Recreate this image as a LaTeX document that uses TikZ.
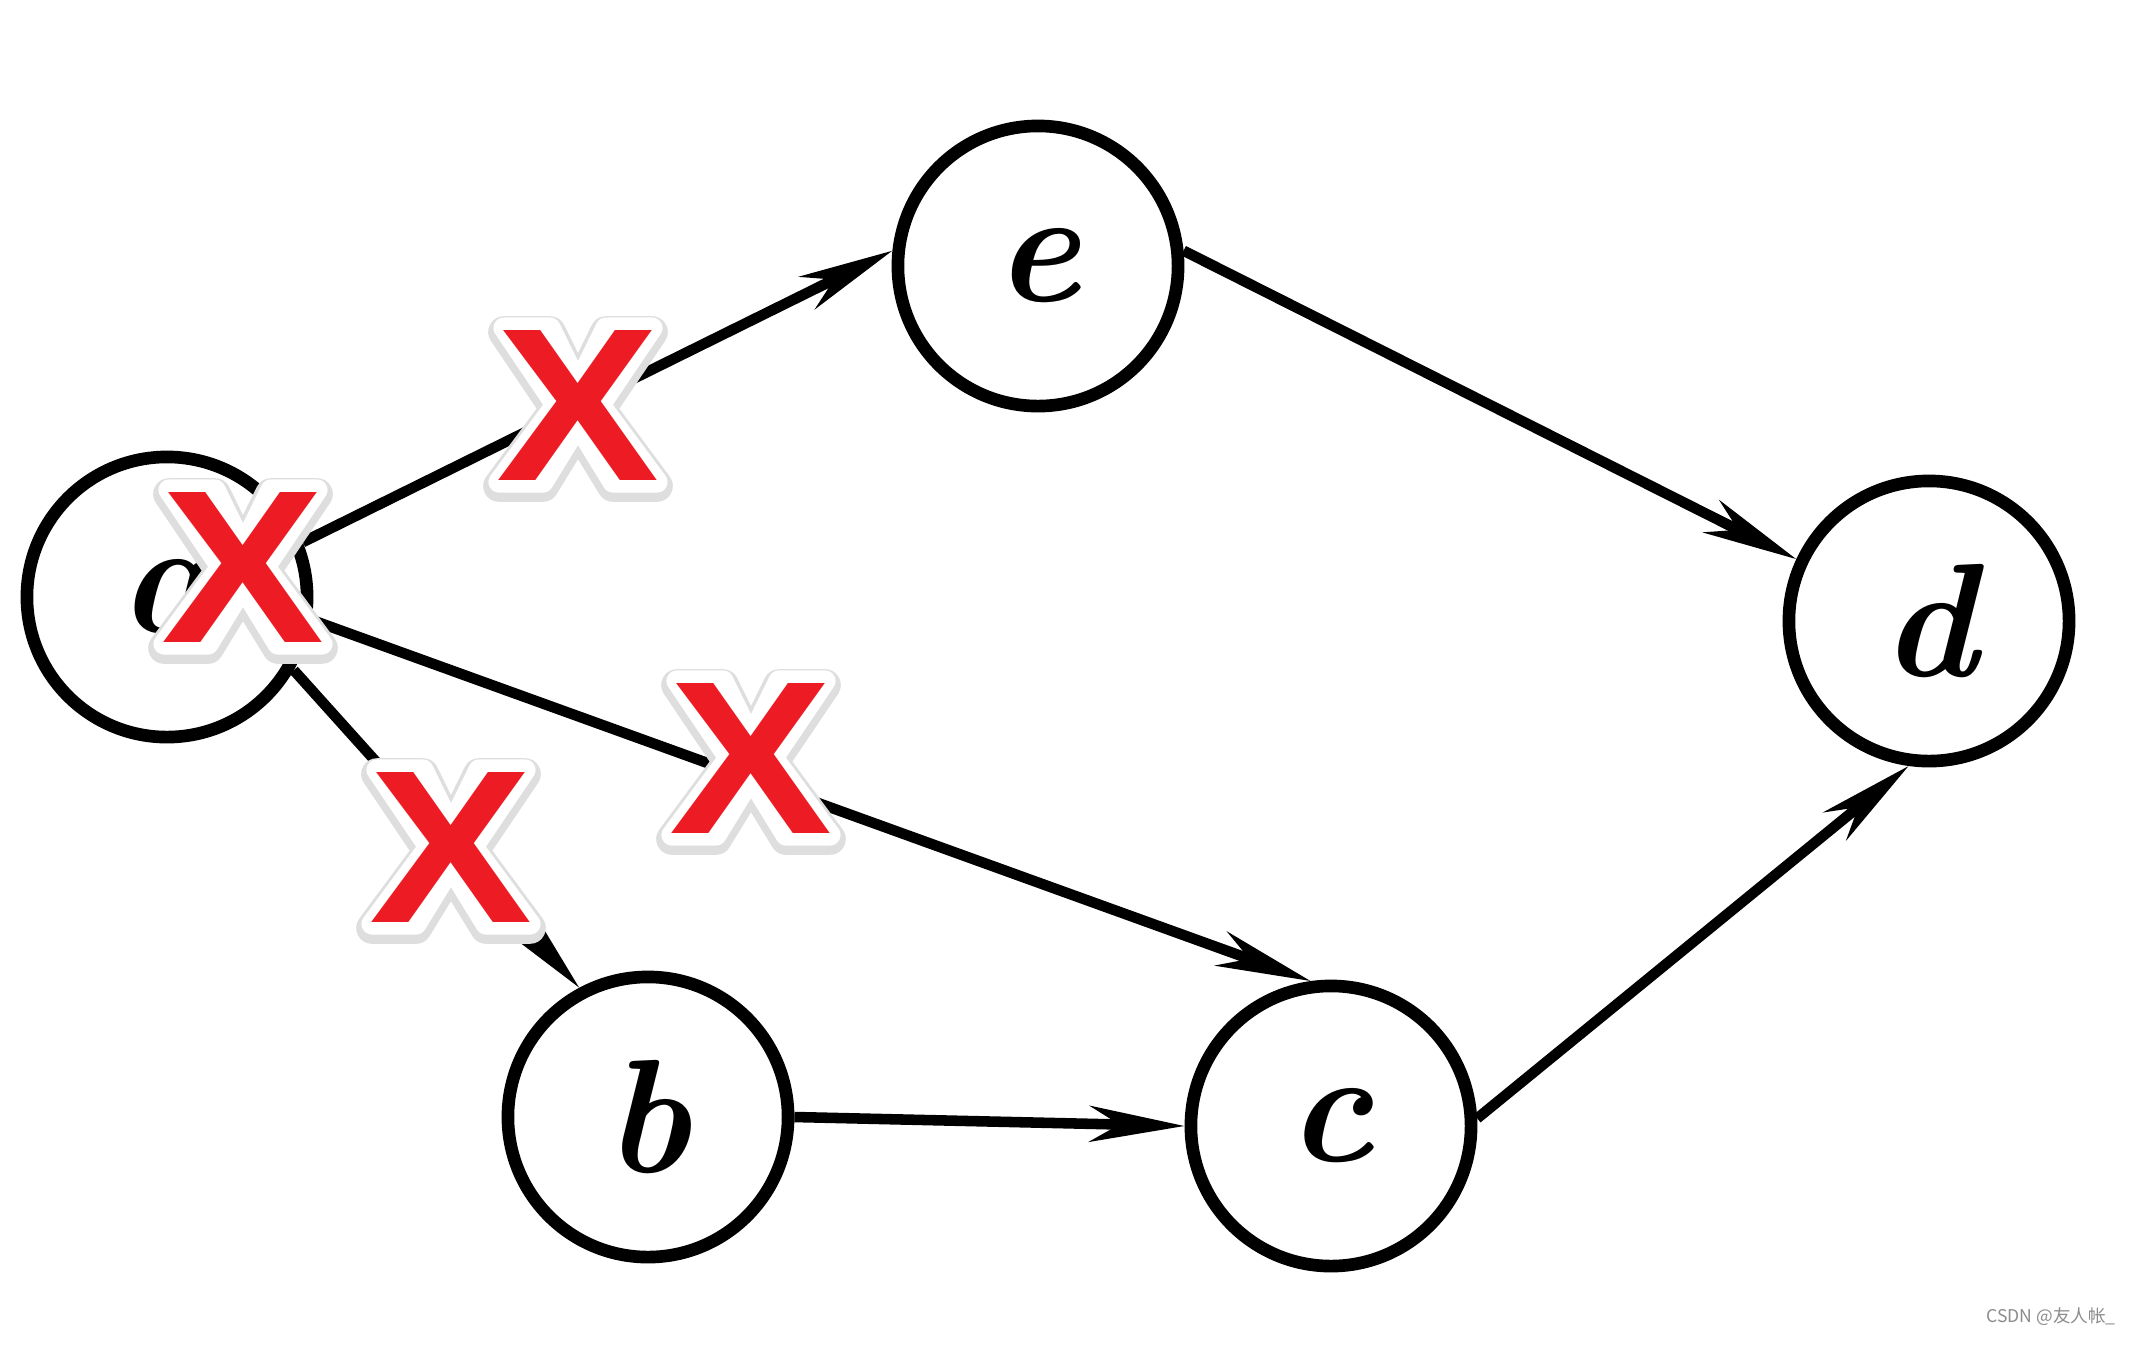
\documentclass[tikz,border=0pt]{standalone}
\usepackage{fontspec}
\newfontfamily\xfont{Liberation Sans Bold}
\newfontfamily\cjkfont{Noto Sans CJK SC}
\usetikzlibrary{arrows.meta,positioning}
\definecolor{xred}{HTML}{ED1C24}

\begin{document}
\begin{tikzpicture}[x=0.01cm,y=-0.01cm] % one unit per pixel, y grows downwards
\tikzset{vertex/.style={draw, circle, line width=3.6pt, minimum size=2.8cm, inner sep=0pt, font=\fontsize{46}{52}\selectfont\bfseries\itshape}} % the circled letters
\tikzset{edge/.style={line width=3pt, -{Stealth[length=0.95cm,width=0.36cm,inset=0.3cm]}}} % the arcs
\tikzset{xmark/.style={text=xred, font=\fontsize{62}{70}\selectfont\xfont}} % red crosses
\tikzset{xhalo/.style={fill=white, draw=white, line width=6pt, line join=round}} % white rim round a cross
\tikzset{xshade/.style={fill=black!13, draw=black!13, line width=9pt, line join=round}} % its soft shadow
\newcommand\wideX{\scalebox{1.12}[1]{X}}
\newcommand\xoutline{(-74,-77) -- (-28,-77) -- (0,-20) -- (28,-77) -- (74,-77) -- (22,0) -- (79,77) -- (35,77) -- (0,20) -- (-35,77) -- (-79,77) -- (-22,0) -- cycle}
\useasboundingbox (0,0) rectangle (2141,1344);
\fill[white] (0,0) rectangle (2141,1344);
\node[vertex] (a) at (167,597) {a};
\node[vertex] (e) at (1038,266) {e};
\node[vertex] (d) at (1929,621) {d};
\node[vertex] (b) at (648,1117) {b};
\node[vertex] (c) at (1331,1126) {c};
\draw[edge] (a.22) -- (e.174);
\draw[edge] (a.-30) -- (b.118);
\draw[edge] (a.-9) -- (c.98);
\draw[edge] (e.6) -- (d.155);
\draw[edge] (b.0) -- (c.180);
\draw[edge] (c.3) -- (d.262);
\foreach \n/\p in {xae/{578,405}, xa/{243,567}, xab/{451,847}, xac/{751,758}}{
  \begin{scope}[shift={(\p)}]
    \path[xshade, shift={(0,4)}] \xoutline;
    \path[xhalo] \xoutline;
  \end{scope}
  \node[xmark] (\n) at (\p) {\wideX};
}
\node[text=black!45, font=\fontsize{5}{6}\selectfont\cjkfont, anchor=south east] (mark) at (2128,1338) {CSDN @友人帐\_};
\end{tikzpicture}
\end{document}
